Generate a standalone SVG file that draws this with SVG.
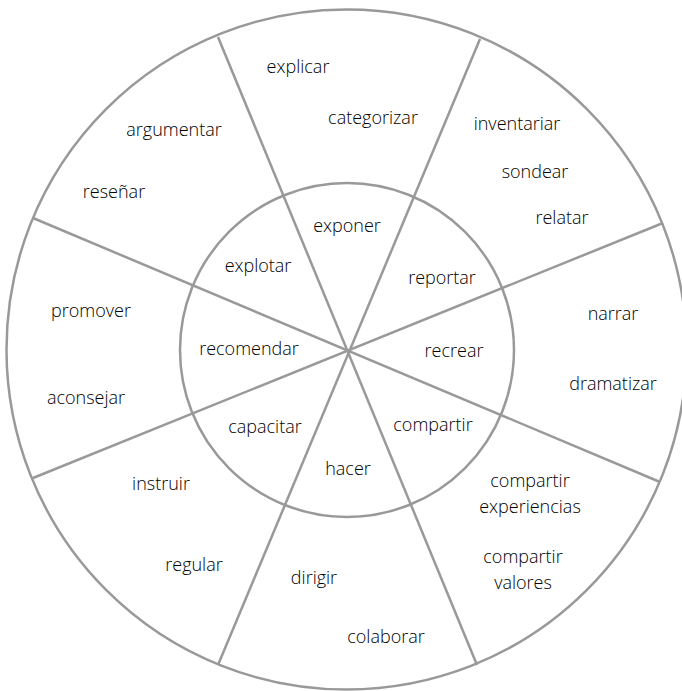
<svg xmlns="http://www.w3.org/2000/svg" width="682" height="691" viewBox="0 0 682 691">
<style>
.ring{fill:none;stroke:#999999;stroke-width:2.5}
.div{stroke:#999999;stroke-width:2.5;stroke-linecap:butt}
text{font-family:"Open Sans","Noto Sans","Liberation Sans",sans-serif;font-size:18px;font-weight:300;fill:#000000;text-anchor:middle}
</style>
<rect width="682" height="691" fill="#ffffff"/>
<g id="rings">
<circle class="ring" cx="346.5" cy="349.5" r="340"/>
<circle class="ring" cx="347" cy="350" r="167"/>
</g>
<g id="connectors">
<line class="div" x1="218" y1="37" x2="477" y2="665"/>
<line class="div" x1="480" y1="39" x2="218" y2="665"/>
<line class="div" x1="33" y1="218" x2="660" y2="482"/>
<line class="div" x1="33" y1="478" x2="663" y2="223"/>
</g>
<g id="inner">
<text x="347" y="232">exponer</text>
<text x="258" y="272">explotar</text>
<text x="442" y="284">reportar</text>
<text x="249" y="355">recomendar</text>
<text x="454" y="357">recrear</text>
<text x="265" y="433">capacitar</text>
<text x="433" y="431">compartir</text>
<text x="348" y="475">hacer</text>
</g>
<g id="seg-top">
<text x="298" y="73">explicar</text>
<text x="373" y="124">categorizar</text>
</g>
<g id="seg-topleft">
<text x="174" y="136">argumentar</text>
<text x="114" y="198">reseñar</text>
</g>
<g id="seg-topright">
<text x="517" y="130">inventariar</text>
<text x="535" y="178">sondear</text>
<text x="562" y="224">relatar</text>
</g>
<g id="seg-left">
<text x="91" y="317">promover</text>
<text x="86" y="404">aconsejar</text>
</g>
<g id="seg-right">
<text x="613" y="320">narrar</text>
<text x="613" y="390">dramatizar</text>
</g>
<g id="seg-bottomleft">
<text x="161" y="490">instruir</text>
<text x="194" y="571">regular</text>
</g>
<g id="seg-bottomright">
<text x="530" y="487">compartir</text>
<text x="530" y="513">experiencias</text>
<text x="523" y="563">compartir</text>
<text x="523" y="589">valores</text>
</g>
<g id="seg-bottom">
<text x="314" y="584">dirigir</text>
<text x="386" y="643">colaborar</text>
</g>
</svg>
